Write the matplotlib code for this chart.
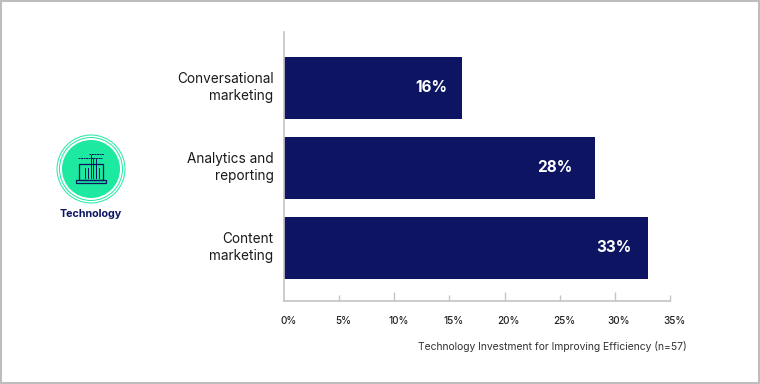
import matplotlib
matplotlib.use('Agg')
import matplotlib.pyplot as plt
from matplotlib.patches import Circle, Rectangle
from matplotlib.transforms import ScaledTranslation

# Values
categories = ['Conversational\nmarketing', 'Analytics and\nreporting', 'Content\nmarketing']
values = [16.1, 28.2, 33]
tick_values = [0, 5, 10, 15, 20, 25, 30, 35]
tick_labels = ['0%', '5%', '10%', '15%', '20%', '25%', '30%', '35%']

navy = '#0d1563'
green = '#1de9a0'
grey = '#c4c4c4'
W, H = 760, 384

plt.rcParams['font.family'] = ['Inter', 'DejaVu Sans']

fig = plt.figure(figsize=(W / 100, H / 100), dpi=100)
ax = fig.add_axes([284 / W, 1 - 301 / H, 386 / W, 269 / H])

# Bars
ypos = range(len(categories))
ax.barh(ypos, values, height=0.775, color=navy)
ax.set_xlim(0, 35)
ax.set_ylim(2.6625, -0.7)

# Value labels inside the bars, the gap to the bar end is not the same for each
for y, v, gap in zip(ypos, values, [-10.5, -16, -12]):
    ax.annotate(f'{round(v)}%', (v, y), xytext=(gap, 0), textcoords='offset points',
                ha='right', va='center', color='white', fontsize=11, fontweight='bold')

# Category labels, nudged up a little from the bar centres
ax.set_yticks(list(ypos))
ax.set_yticklabels(categories, fontsize=9.8, color='#1a1a1a', linespacing=1.3, ha='right')
ax.tick_params(axis='y', length=0, pad=7.5)
for lab in ax.get_yticklabels():
    lab.set_transform(lab.get_transform() + ScaledTranslation(0, 2.5 / 72, fig.dpi_scale_trans))

# Axis with alternating tick lengths, pointing up
ax.set_xticks(tick_values[1:][1::2])
ax.set_xticks(tick_values[1:][0::2], minor=True)
ax.set_xticklabels([])
ax.tick_params(axis='x', which='major', direction='in', length=6.5, width=1, color=grey)
ax.tick_params(axis='x', which='minor', direction='in', length=4.5, width=1, color=grey)
for s in ['top', 'right']:
    ax.spines[s].set_visible(False)
for s in ['left', 'bottom']:
    ax.spines[s].set_color(grey)
    ax.spines[s].set_linewidth(1.2)

# Tick labels sit a little to the right of their ticks
for t, lab in zip(tick_values, tick_labels):
    ax.annotate(lab, (t, 0), xycoords=('data', 'axes fraction'), xytext=(3, -14.5),
                textcoords='offset points', ha='center', va='center',
                fontsize=7.2, color='#222222', fontweight='medium')

# Overlay in pixel coordinates for the frame, note and icon
ov = fig.add_axes([0, 0, 1, 1], zorder=5)
ov.set_xlim(0, W)
ov.set_ylim(H, 0)
ov.axis('off')
ov.patch.set_alpha(0)

ov.add_patch(Rectangle((1, 1), W - 2, H - 2, fill=False, ec='#bdbdbd', lw=1.5))
ov.text(687, 347, 'Technology Investment for Improving Efficiency (n=57)', ha='right',
        va='center', fontsize=7.45, color='#333333')

# Icon
cx, cy = 91, 169
ov.add_patch(Circle((cx, cy), 34, fill=False, ec=green, lw=0.7))
ov.add_patch(Circle((cx, cy), 31.5, fill=False, ec=green, lw=0.7))
ov.add_patch(Circle((cx, cy), 29, fc=green, ec='none'))
ov.add_patch(Rectangle((cx - 12, cy - 5), 24, 16, fill=False, ec=navy, lw=0.9))
ov.add_patch(Rectangle((cx - 15, cy + 11), 30, 3, fill=False, ec=navy, lw=0.9))
ov.plot([cx - 13, cx + 11], [cy - 11, cy - 11], color=navy, lw=0.7, ls=(0, (2, 0.6)))
ov.plot([cx - 2, cx + 13], [cy - 15, cy - 15], color=navy, lw=0.7, ls=(0, (2, 0.6)))
for dx, top in zip([-6, -3, 0, 2, 5, 8], [-1, -1, -14, -11, -10, -1]):
    ov.plot([cx + dx, cx + dx], [cy + top, cy + 9], color=navy, lw=0.7)
ov.text(cx, 214, 'Technology', ha='center', va='center', fontsize=7.8, fontweight='bold', color=navy)

fig.savefig('out.png', dpi=100)
